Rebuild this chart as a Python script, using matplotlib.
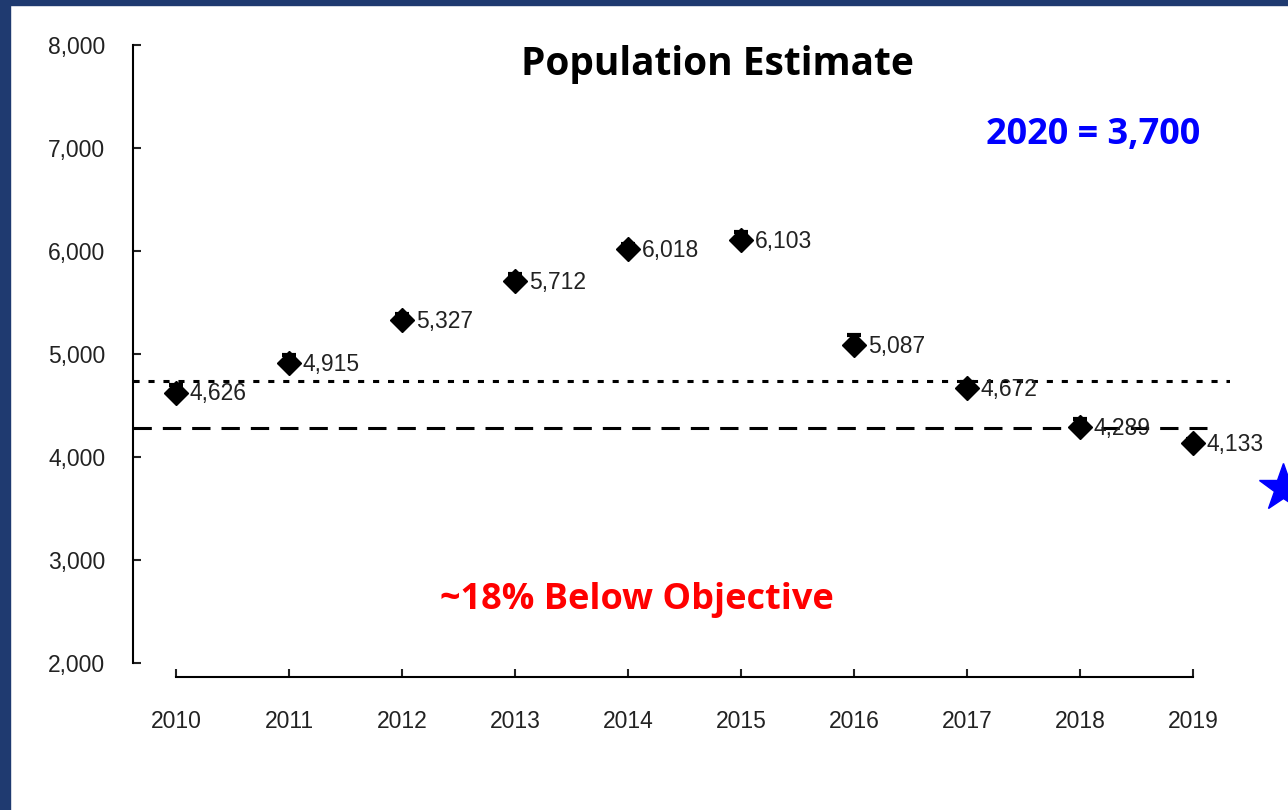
import matplotlib.pyplot as plt
from matplotlib.patches import Rectangle

# data
years = [2010, 2011, 2012, 2013, 2014, 2015, 2016, 2017, 2018, 2019]
population = [4626, 4915, 5327, 5712, 6018, 6103, 5087, 4672, 4289, 4133]
err_low = [0, 0, 0, 0, 0, 0, 0, 0, 0, 0]
err_high = [70, 80, 60, 60, 50, 80, 100, 60, 80, 40]
point_labels = ["4,626", "4,915", "5,327", "5,712", "6,018", "6,103", "5,087", "4,672", "4,289", "4,133"]
dotted_level = 4740
dashed_level = 4280
star_year = 2019.8
star_value = 3700
y_ticks = [2000, 3000, 4000, 5000, 6000, 7000, 8000]
y_tick_labels = ["2,000", "3,000", "4,000", "5,000", "6,000", "7,000", "8,000"]

W, H = 1288, 810
fig = plt.figure(figsize=(W / 100, H / 100), dpi=100)
fig.patch.set_facecolor("white")

# slide frame (dark blue strips top and left)
fig.patches.append(Rectangle((0, 1 - 5 / H), 1, 5 / H, transform=fig.transFigure,
                             color="#1f3a70", zorder=0))
fig.patches.append(Rectangle((0, 0), 10 / W, 1, transform=fig.transFigure,
                             color="#1f3a70", zorder=0))

left, right = 133, 1230
top, bottom = 45, 663
ax = fig.add_axes([left / W, (H - bottom) / H, (right - left) / W, (bottom - top) / H])
ax.set_facecolor("none")

ax.set_xlim(2010 - 43 / 113, 2019 + 37 / 113)
ax.set_ylim(2000, 8000)

ax.axhline(dotted_level, xmin=0, xmax=1.0, color="black", lw=2.2, ls=(0, (2, 2.9)))
ax.axhline(dashed_level, xmin=0, xmax=(1207 - left) / (right - left), color="black", lw=2.2,
           ls=(0, (6, 3.6)))

ax.errorbar(years, population, yerr=[err_low, err_high], fmt="D", color="black", ms=12,
            capsize=5, elinewidth=2, capthick=3, zorder=3)

for x, y, lab in zip(years, population, point_labels):
    ax.annotate(lab, (x, y), xytext=(10, -1), textcoords="offset points",
                ha="left", va="center", fontsize=16.5, family="Liberation Sans", color="#222222")

ax.plot([star_year], [star_value], marker="*", color="#0000ff", ms=36, clip_on=False, zorder=4)

for s in ["top", "right"]:
    ax.spines[s].set_visible(False)
ax.spines["left"].set_bounds(2000, 8000)
ax.spines["bottom"].set_bounds(2010, 2019)
ax.spines["bottom"].set_position(("outward", 10))
for s in ["left", "bottom"]:
    ax.spines[s].set_linewidth(1.5)

ax.set_xticks(years)
ax.set_xticklabels([str(y) for y in years], fontsize=16.5, family="Liberation Sans")
ax.set_yticks(y_ticks)
ax.set_yticklabels(y_tick_labels, fontsize=16.5, family="Liberation Sans")
ax.tick_params(axis="x", direction="in", length=6, width=1.5, pad=24, colors="#222222")
ax.tick_params(axis="y", direction="in", length=6, width=1.5, pad=20, colors="#222222")

fig.text(717 / W, 1 - 64 / H, "Population Estimate", ha="center", va="center",
         fontsize=28, fontweight="bold", family="Open Sans")
fig.text(1093 / W, 1 - 135 / H, "2020 = 3,700", ha="center", va="center",
         fontsize=26, fontweight="bold", family="Open Sans", color="#0000ff")
fig.text(637 / W, 1 - 600 / H, "~18% Below Objective", ha="center", va="center",
         fontsize=26, fontweight="bold", family="Open Sans", color="#ff0000")

fig.savefig("out.png", dpi=100)
